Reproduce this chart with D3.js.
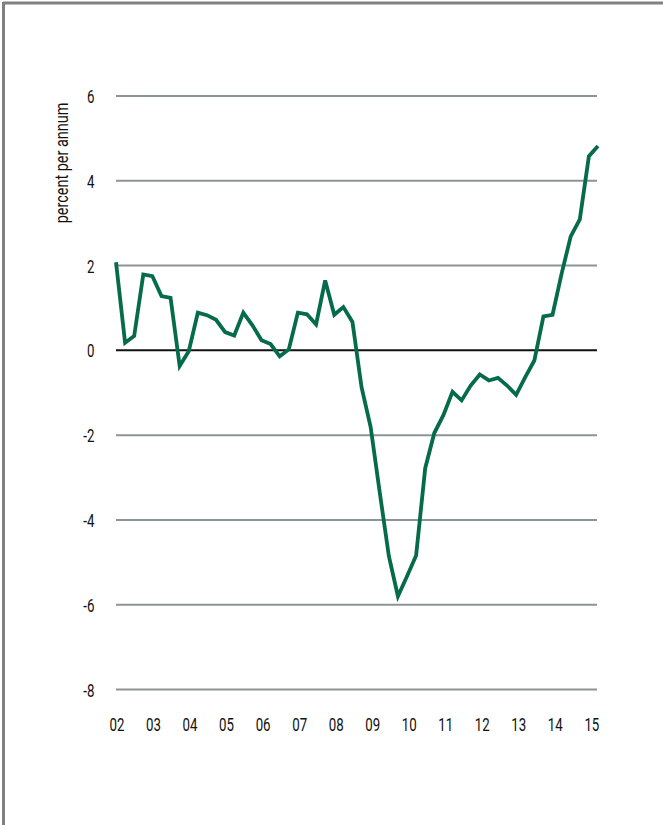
<!DOCTYPE html>
<html>
<head>
<meta charset="utf-8">
<script src="https://cdn.jsdelivr.net/npm/d3@7"></script>
<style>
  html, body { margin: 0; padding: 0; background: #fff; }
  svg { display: block; }
  .tick-label { font-family: "Roboto", "Liberation Sans", sans-serif; font-weight: 400; fill: #111; }
</style>
</head>
<body>
<svg id="chart" width="663" height="825"></svg>
<script>
// quarterly values, 2002Q1 .. 2015Q2 (percent per annum)
const values = [
  2.08, 0.18, 0.34, 1.79, 1.75, 1.28, 1.24, -0.37,
  -0.02, 0.89, 0.83, 0.72, 0.43, 0.35, 0.89, 0.59,
  0.24, 0.15, -0.14, 0.02, 0.89, 0.85, 0.61, 1.65,
  0.84, 1.02, 0.67, -0.87, -1.81, -3.35, -4.85, -5.80,
  -5.33, -4.84, -2.78, -1.95, -1.53, -0.98, -1.18, -0.83,
  -0.57, -0.71, -0.65, -0.83, -1.05, -0.63, -0.24, 0.80,
  0.84, 1.81, 2.69, 3.09, 4.58, 4.82
];
const yTicks = [6, 4, 2, 0, -2, -4, -6, -8];
const xTickLabels = ["02", "03", "04", "05", "06", "07", "08", "09", "10", "11", "12", "13", "14", "15"];
const yTitle = "percent per annum";

const narrow = 0.7; // condensed look of the original typeface

const svg = d3.select("#chart");

// frame: top and left rules
svg.append("line").attr("x1", 3).attr("x2", 663).attr("y1", 3).attr("y2", 3)
  .attr("stroke", "#808080").attr("stroke-width", 3);
svg.append("line").attr("x1", 3.5).attr("x2", 3.5).attr("y1", 2).attr("y2", 825)
  .attr("stroke", "#808080").attr("stroke-width", 3);

const x = d3.scaleLinear().domain([0, values.length - 1]).range([116, 598]);
const y = d3.scaleLinear().domain([-8, 6]).range([689.5, 96]);

// gridlines
svg.append("g").selectAll("line")
  .data(yTicks)
  .join("line")
  .attr("x1", 116).attr("x2", 597)
  .attr("y1", (d) => y(d)).attr("y2", (d) => y(d))
  .attr("stroke", (d) => d === 0 ? "#111" : "#8d9396")
  .attr("stroke-width", 2);

// y tick labels
svg.append("g").selectAll("text")
  .data(yTicks)
  .join("text")
  .attr("class", "tick-label")
  .attr("transform", (d) => `translate(94.5,${y(d) + 7}) scale(${narrow},1)`)
  .attr("text-anchor", "end")
  .attr("font-size", 19)
  .text((d) => d);

// x tick labels, one per year
svg.append("g").selectAll("text")
  .data(xTickLabels)
  .join("text")
  .attr("class", "tick-label")
  .attr("transform", (d, i) => `translate(${x(i * 4) + 1 + i * 0.15},731) scale(${narrow},1)`)
  .attr("text-anchor", "middle")
  .attr("font-size", 19)
  .text((d) => d);

// axis title
svg.append("text")
  .attr("class", "tick-label")
  .attr("transform", "translate(68,163) rotate(-90) scale(0.76,1)")
  .attr("text-anchor", "middle")
  .attr("font-size", 19)
  .text(yTitle);

const line = d3.line()
  .x((d, i) => x(i))
  .y((d) => y(d));

svg.append("path")
  .datum(values)
  .attr("d", line)
  .attr("fill", "none")
  .attr("stroke", "#056b4b")
  .attr("stroke-width", 3.8)
  .attr("stroke-linejoin", "miter");
</script>
</body>
</html>
